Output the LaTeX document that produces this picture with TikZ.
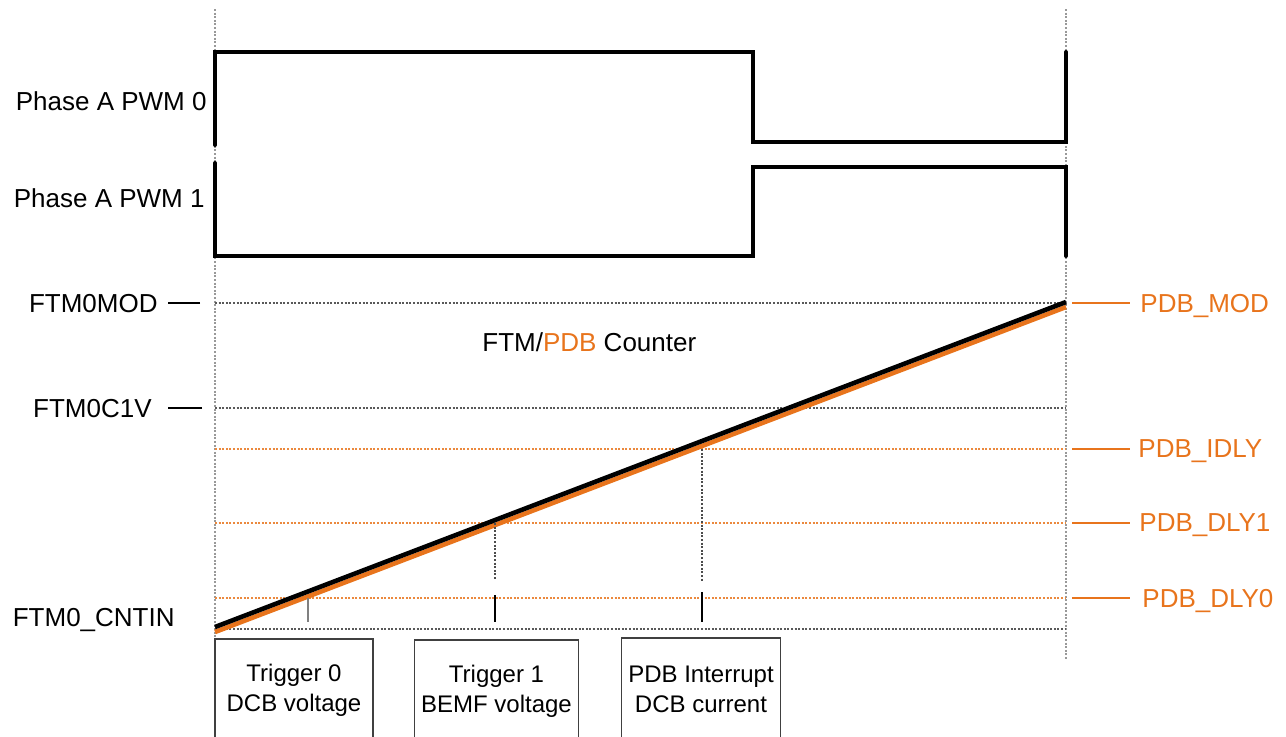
\documentclass[tikz,border=0pt]{standalone}
\usepackage{fontspec}
\setmainfont{Liberation Sans}
\usetikzlibrary{positioning}
\definecolor{pdborange}{RGB}{232,116,28}

\tikzset{
  vline/.style={gray!80, line width=1pt, dash pattern=on 1pt off 0.8pt},
  gridline/.style={gray!70!black, line width=1pt, dash pattern=on 1pt off 0.8pt},
  pdbline/.style={pdborange!85, line width=1pt, dash pattern=on 1pt off 0.8pt},
  hitline/.style={gray!60!black, line width=0.8pt, dash pattern=on 1pt off 0.8pt},
  pwm/.style={black, line width=2pt, line cap=round},
  ramp/.style={line width=2.3pt},
  tick/.style={line width=0.8pt},
  leader/.style={black, line width=0.6pt},
  pdbleader/.style={pdborange, line width=0.7pt},
  lbl/.style={font=\fontsize{13}{15}\selectfont, inner sep=0pt, text depth=0pt},
  pdblbl/.style={lbl, text=pdborange},
  trigbox/.style={draw=gray!50!black, line width=0.8pt, align=center,
    font=\fontsize{12}{15}\selectfont},
}

\begin{document}
\begin{tikzpicture}[x=0.5pt, y=-0.5pt]
\useasboundingbox (0,0) rectangle (1286,736);
\clip (0,0) rectangle (1286,736);

% Start and end of the PWM period
\draw[vline] (215,9) coordinate (start-top) -- (215,640) coordinate (start-bot);
\draw[vline] (1066,9) coordinate (end-top) -- (1066,660) coordinate (end-bot);

% FTM counter levels
\foreach \y/\n in {303/mod, 408/c1v, 629/cntin}
  \draw[gridline] (215,\y) coordinate (\n-l) -- (1066,\y) coordinate (\n-r);

% PDB delay levels
\foreach \y/\n in {449/idly, 523/dly1, 598/dly0}
  \draw[pdbline] (215,\y) coordinate (\n-l) -- (1066,\y) coordinate (\n-r);

% PWM waveforms
\draw[pwm] (215,145) -- (215,52) -- (753,52) -- (753,142) -- (1066,142) -- (1066,52);
\draw[pwm] (215,163) -- (215,256) -- (753,256) -- (753,167) -- (1066,167) -- (1066,256);

% Counter ramp (PDB under FTM)
\draw[ramp, pdborange] (215,632) -- (1066,307);
\draw[ramp, black] (215,627) -- (1066,302);

% Where the ramp meets the delays
\coordinate (dly1-hit) at (495,523);
\coordinate (idly-hit) at (702,449);
\draw[hitline] (dly1-hit) -- (495,580);
\draw[hitline] (idly-hit) -- (702,582);

% Trigger ticks
\foreach \x/\t/\c in {308/598/gray, 495/595/black, 702/592/black}
  \draw[tick, \c] (\x,\t) -- (\x,622);

% Signal labels
\node[lbl, anchor=base east] (pwm0) at (207,110) {Phase A PWM 0};
\node[lbl, anchor=base east] (pwm1) at (205,207) {Phase A PWM 1};

% FTM register labels
\node[lbl, left=28.5pt of mod-l] (ftmmod) {FTM0MOD};
\node[lbl, left=31.5pt of c1v-l] (ftmc1v) {FTM0C1V};
\node[lbl, anchor=base east] (ftmcntin) at (175,626) {FTM0\_CNTIN};
\draw[leader] ([xshift=-7.5pt]mod-l) -- ([xshift=-23.5pt]mod-l);
\draw[leader] ([xshift=-6.5pt]c1v-l) -- ([xshift=-23.5pt]c1v-l);

% PDB register labels
\node[pdblbl, right=37pt of mod-r] (pdbmod) {PDB\_MOD};
\node[pdblbl, right=36pt of idly-r] (pdbidly) {PDB\_IDLY};
\node[pdblbl, right=36.5pt of dly1-r] (pdbdly1) {PDB\_DLY1};
\node[pdblbl, right=38pt of dly0-r] (pdbdly0) {PDB\_DLY0};
\foreach \n in {mod, idly, dly1, dly0}
  \draw[pdbleader] ([xshift=3pt]\n-r) -- ([xshift=32pt]\n-r);

% Counter title
\node[lbl, anchor=base west] (counter) at (482,351) {FTM/\textcolor{pdborange}{PDB} Counter};

% Actions started by the triggers
\node[trigbox, minimum width=79pt, minimum height=51pt] (trig0) at (294,690) {Trigger 0\\DCB voltage};
\node[trigbox, minimum width=81.5pt, minimum height=51pt] (trig1) at (496.5,691) {Trigger 1\\BEMF voltage};
\node[trigbox, minimum width=79pt, minimum height=51pt] (pdbint) at (701,689) {PDB Interrupt\\DCB current};

\end{tikzpicture}
\end{document}
